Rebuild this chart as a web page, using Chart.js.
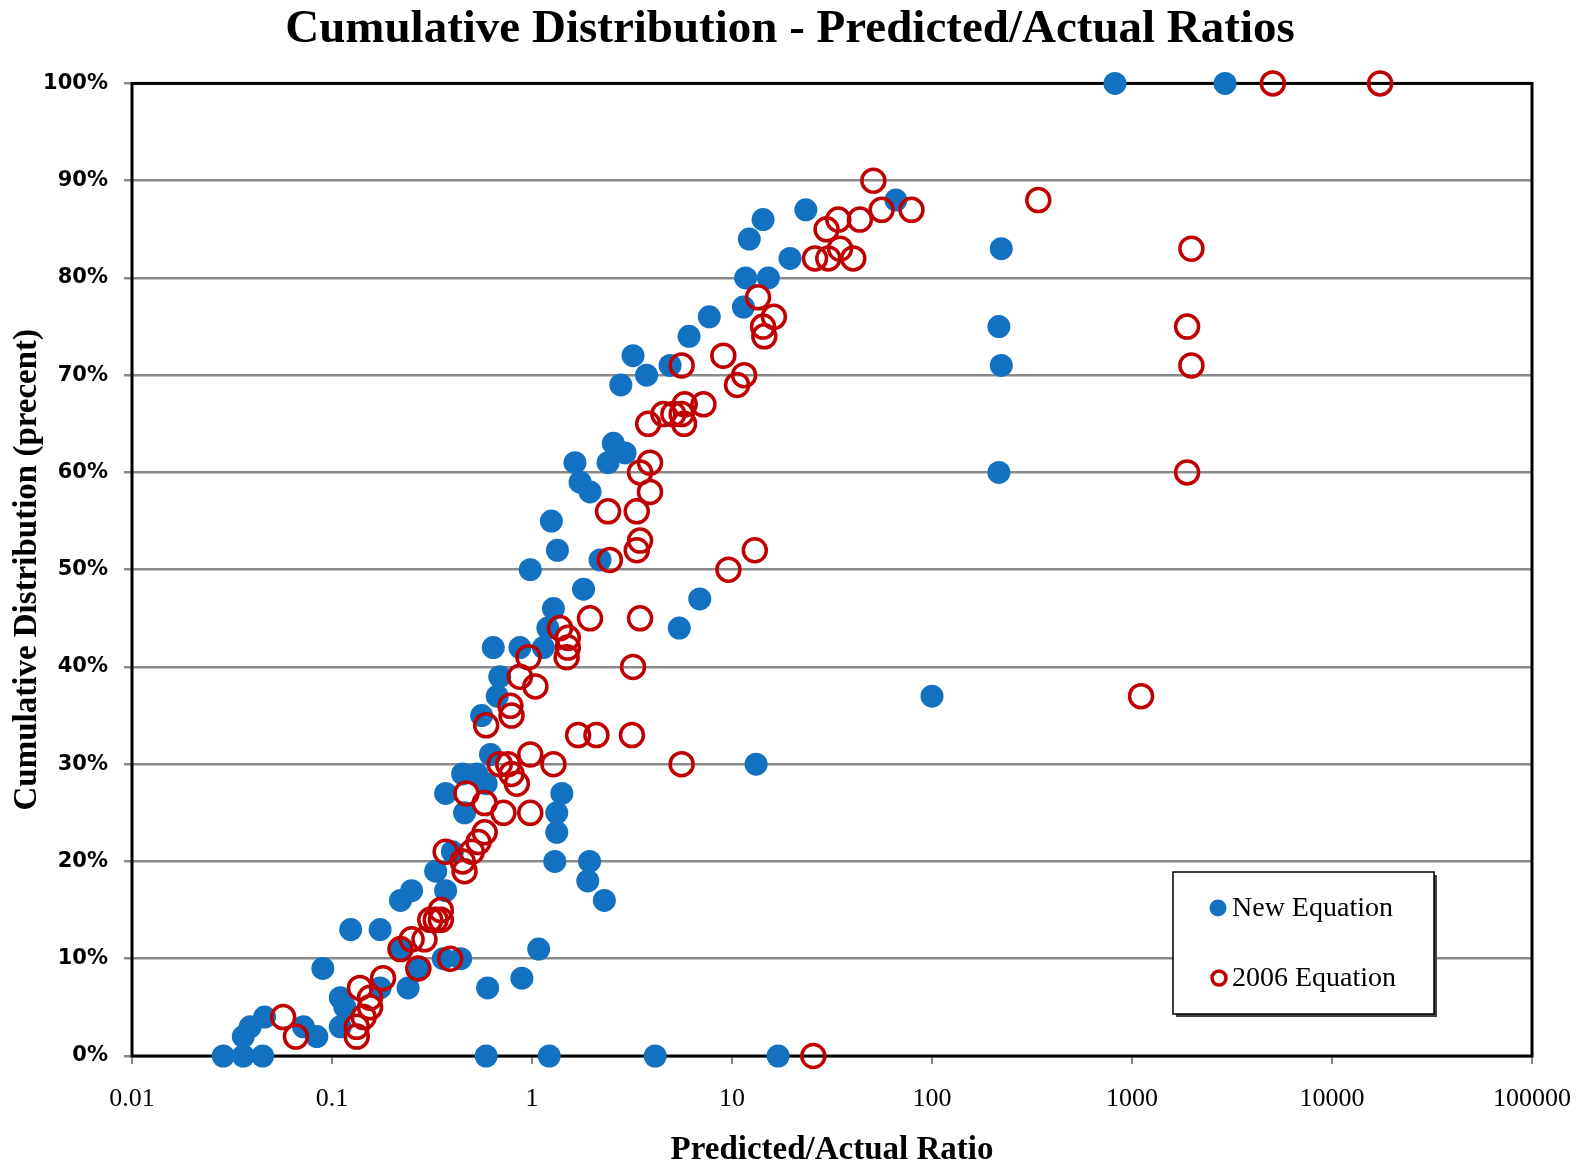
<!DOCTYPE html>
<html>
<head>
<meta charset="utf-8">
<script src="https://cdn.jsdelivr.net/npm/chart.js@4.4.0/dist/chart.umd.min.js"></script>
<style>
  body { margin: 0; background: #fff; }
  #wrap { width: 1580px; height: 1170px; }
</style>
</head>
<body>
<div id="wrap"><canvas id="myChart"></canvas></div>
<script>
// New Equation: predicted/actual ratio and cumulative percent
const newEqRatio = [822, 2920, 66, 23.4, 14.3, 12.2, 222, 19.5, 11.7, 15.2, 11.4, 7.7, 216, 6.1, 3.2, 4.9, 222, 3.74, 2.78,
  2.55, 2.92, 2.4, 1.64, 216, 1.74, 1.95, 1.25, 1.34, 2.19, 0.98, 1.81, 6.9, 1.28, 1.2, 5.45, 0.64, 0.87, 1.14, 0.69, 0.67, 100,
  0.56, 0.62, 13.2, 0.45, 0.53, 0.59, 0.37, 1.41, 0.46, 1.33, 1.33, 0.40, 1.3, 1.94, 0.33, 1.9, 0.25, 0.37, 0.22, 2.3,
  0.124, 0.174, 0.22, 1.08, 0.36, 0.44, 0.09, 0.275, 0.89, 0.6, 0.174, 0.24, 0.11, 0.116, 0.046, 0.039, 0.072, 0.11,
  0.036, 0.084, 0.0286, 0.036, 0.045, 0.59, 1.22, 4.13, 17.0];
const newEqPct = [100, 100, 88, 87, 86, 84, 83, 82, 80, 80, 77, 76, 75, 74, 72, 71, 71, 70, 69,
  63, 62, 61, 61, 60, 59, 58, 55, 52, 51, 50, 48, 47, 46, 44, 44, 42, 42, 42, 39, 37, 37,
  35, 31, 30, 29, 29, 28, 27, 27, 25, 25, 23, 21, 20, 20, 19, 18, 17, 17, 16, 16,
  13, 13, 11, 11, 10, 10, 9, 9, 8, 7, 7, 7, 6, 5, 4, 3, 3, 3,
  2, 2, 0, 0, 0, 0, 0, 0, 0];

// 2006 Equation
const eq2006Ratio = [5060, 17400, 50.9, 340, 56, 79, 34, 43.6, 29.7, 34.7, 1982, 26, 30.3, 40.4, 13.5, 16.2, 14.3, 1886, 14.5,
  9.05, 5.6, 1982, 11.5, 10.6, 5.8, 7.2, 4.54, 5.09, 5.6, 3.81, 5.76, 3.89, 3.47, 1886, 3.89, 2.4, 3.34, 3.47, 3.34, 13.0,
  2.45, 9.6, 1.95, 3.47, 1.38, 1.51, 1.51, 1.49, 0.96, 3.2, 0.87, 1.04, 1110, 0.78, 0.79, 0.59, 1.7, 2.1, 3.16, 0.98,
  0.69, 0.76, 1.28, 5.6, 0.79, 0.84, 0.47, 0.58, 0.72, 0.98, 0.58, 0.54, 0.37, 0.5, 0.45, 0.46, 0.35, 0.31, 0.33, 0.35,
  0.25, 0.29, 0.22, 0.39, 0.27, 0.18, 0.138, 0.155, 0.155, 0.057, 0.144, 0.133, 0.066, 0.133, 25.5];
const eq2006Pct = [100, 100, 90, 88, 87, 87, 86, 86, 85, 83, 83, 82, 82, 82, 78, 76, 75, 75, 74,
  72, 71, 71, 70, 69, 67, 67, 66, 66, 66, 65, 65, 61, 60, 60, 58, 56, 56, 53, 52, 52,
  51, 50, 45, 45, 44, 43, 42, 41, 41, 40, 39, 38, 37, 36, 35, 34, 33, 33, 33, 31,
  30, 30, 30, 30, 29, 28, 27, 26, 25, 25, 23, 22, 21, 21, 20, 19, 15, 14, 14, 14,
  12, 12, 11, 10, 9, 8, 7, 6, 5, 4, 4, 3, 2, 2, 0];

const xTicks = [0.01, 0.1, 1, 10, 100, 1000, 10000, 100000];
const xTickLabels = ['0.01', '0.1', '1', '10', '100', '1000', '10000', '100000'];

const BLUE = '#1271c0';
const RED = '#c00000';

function toPoints(xs, ys) {
  return xs.map((x, i) => ({ x: x, y: ys[i] }));
}

// black frame round the plot area (drawn under the points)
const framePlugin = {
  id: 'frame',
  beforeDatasetsDraw(chart) {
    const a = chart.chartArea, ctx = chart.ctx;
    ctx.save();
    ctx.strokeStyle = '#000';
    ctx.lineWidth = 3;
    ctx.strokeRect(a.left, a.top, a.right - a.left, a.bottom - a.top);
    ctx.restore();
  }
};

// boxed legend in the lower right
const legendBox = {
  id: 'legendBox',
  afterDraw(chart) {
    const ctx = chart.ctx;
    const x = 1173, y = 872, w = 261, h = 142;
    ctx.save();
    ctx.fillStyle = '#444';
    ctx.fillRect(x + 3, y + 3, w, h);
    ctx.fillStyle = '#fff';
    ctx.fillRect(x, y, w, h);
    ctx.strokeStyle = '#000';
    ctx.lineWidth = 1.5;
    ctx.strokeRect(x, y, w, h);

    ctx.font = '28px "Liberation Serif"';
    ctx.textBaseline = 'middle';
    ctx.fillStyle = '#000';

    const ds = chart.data.datasets;
    ctx.beginPath();
    ctx.arc(1218, 908, 8.5, 0, Math.PI * 2);
    ctx.fillStyle = ds[0].backgroundColor;
    ctx.fill();
    ctx.fillStyle = '#000';
    ctx.fillText(ds[0].label, 1232, 909);

    ctx.beginPath();
    ctx.arc(1219, 978, 7, 0, Math.PI * 2);
    ctx.strokeStyle = ds[1].borderColor;
    ctx.lineWidth = 3.5;
    ctx.stroke();
    ctx.fillText(ds[1].label, 1232, 979);
    ctx.restore();
  }
};

new Chart(document.getElementById('myChart'), {
  type: 'scatter',
  data: {
    datasets: [{
      label: 'New Equation',
      data: toPoints(newEqRatio, newEqPct),
      backgroundColor: BLUE,
      borderColor: BLUE,
      borderWidth: 0,
      pointRadius: 11.5,
      order: 1,
      clip: false
    }, {
      label: '2006 Equation',
      data: toPoints(eq2006Ratio, eq2006Pct),
      backgroundColor: 'rgba(0,0,0,0)',
      borderColor: RED,
      borderWidth: 3.5,
      pointRadius: 11.5,
      order: 0,
      clip: false
    }]
  },
  options: {
    responsive: true,
    maintainAspectRatio: false,
    animation: false,
    events: [],
    layout: { padding: { left: 0, right: 0, top: 0, bottom: 0 } },
    plugins: {
      legend: { display: false },
      tooltip: { enabled: false },
      title: {
        display: true,
        text: 'Cumulative Distribution - Predicted/Actual Ratios',
        color: '#000',
        font: { family: '"Liberation Serif"', size: 47, weight: 'bold' },
        padding: { top: 2, bottom: 25 }
      }
    },
    scales: {
      x: {
        type: 'logarithmic',
        min: 0.01,
        max: 100000,
        afterBuildTicks: (scale) => { scale.ticks = xTicks.map(v => ({ value: v })); },
        afterFit: (scale) => {
          scale.height = 114;
          scale.paddingLeft = 30;
          scale.paddingRight = 48;
        },
        ticks: {
          color: '#000',
          font: { family: '"Liberation Serif"', size: 26 },
          padding: 20,
          maxRotation: 0,
          autoSkip: false,
          callback: (v, i) => xTickLabels[i]
        },
        grid: { drawOnChartArea: false, drawTicks: true, tickLength: 8, color: '#888', lineWidth: 2 },
        border: { display: false },
        title: {
          display: true,
          text: 'Predicted/Actual Ratio',
          color: '#000',
          font: { family: '"Liberation Serif"', size: 33, weight: 'bold' },
          padding: { top: 0, bottom: 0 }
        }
      },
      y: {
        min: 0,
        max: 100,
        afterFit: (scale) => { scale.width = 132; },
        ticks: {
          stepSize: 10,
          color: '#000',
          font: { family: '"DejaVu Sans"', size: 21, weight: 'bold' },
          padding: 16,
          callback: (v) => v + '%'
        },
        grid: { color: '#8a8a8a', lineWidth: 2.5, tickLength: 8 },
        border: { display: false },
        title: {
          display: true,
          text: 'Cumulative Distribution (precent)',
          color: '#000',
          font: { family: '"Liberation Serif"', size: 33, weight: 'bold' },
          padding: { top: 8, bottom: 0 }
        }
      }
    }
  },
  plugins: [framePlugin, legendBox]
});
</script>
</body>
</html>
